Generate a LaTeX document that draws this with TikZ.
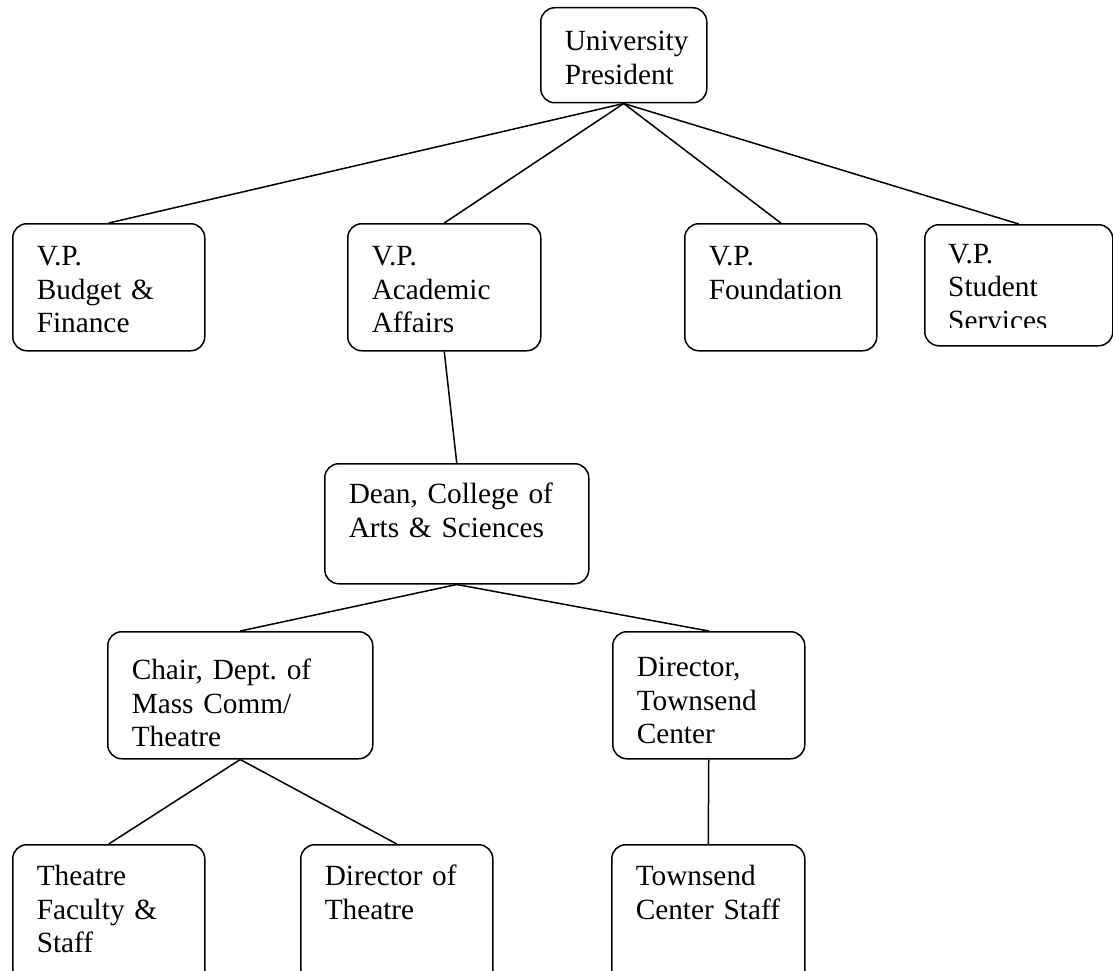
\documentclass[tikz,border=0pt]{standalone}
\usepackage{fontspec}
\setmainfont{Liberation Serif}
\frenchspacing
\usetikzlibrary{positioning}

\tikzset{
  orgbox/.style={draw, line width=1.5pt, rounded corners=14pt, anchor=north west,
    inner xsep=24pt, inner ysep=0pt, align=left, text height=42pt, text depth=85pt,
    font=\fontsize{29.3pt}{33.5pt}\selectfont},
  orgtext/.style={anchor=north west, inner xsep=24pt, inner ysep=0pt, align=left,
    font=\fontsize{29.3pt}{33.5pt}\selectfont},
  link/.style={line width=1.5pt},
}

\begin{document}
\begin{tikzpicture}[x=1pt, y=1pt]
  \useasboundingbox (0,0) rectangle (1113,-971);
  \fill[white] (0,0) rectangle (1113,-971);
  \clip (0,0) rectangle (1113,-971);

  % top
  \node[orgbox, text width=118pt, text height=43pt, text depth=52pt] (pres) at (540,-7) {University\\President};

  % vice presidents
  \node[orgbox, text width=144pt] (vpbf) at (12,-223) {V.P.\\Budget \&\\Finance};
  \node[orgbox, text width=145pt] (vpaa) at (347,-223) {V.P.\\Academic\\Affairs};
  \node[orgbox, text width=144pt] (vpf) at (684,-223) {V.P.\\Foundation};
  \node[orgbox, text width=140pt, text depth=79pt] (vpss) at (924,-224) {};
  \begin{scope}
    \clip (vpss.north west) rectangle ([yshift=-103pt]vpss.north east);
    \node[orgtext, text width=140pt, text height=39pt] (vpsstext) at (vpss.north west) {V.P.\\Student\\Services};
  \end{scope}

  % dean
  \node[orgbox, text width=216pt, text height=40pt, text depth=80pt] (dean) at (324,-463) {Dean, College of\\Arts \& Sciences};

  % chairs and directors
  \node[orgbox, text width=217pt, text height=48pt, text depth=79pt] (chair) at (107,-631) {Chair, Dept. of\\Mass Comm/\\Theatre};
  \node[orgbox, text width=144pt, text height=45pt, text depth=82pt] (dirtc) at (612,-631) {Director,\\Townsend\\Center};

  % staff
  \node[orgbox, text width=144pt, text height=41pt, text depth=99pt] (tfs) at (12,-844) {Theatre\\Faculty \&\\Staff};
  \node[orgbox, text width=144pt, text height=41pt, text depth=99pt] (dirth) at (300,-844) {Director of\\Theatre};
  \node[orgbox, text width=145pt, text height=41pt, text depth=99pt] (tcs) at (611,-844) {Townsend\\Center Staff};

  % connectors
  \draw[link] (pres.south) -- (vpbf.north);
  \draw[link] (pres.south) -- (vpaa.north);
  \draw[link] (pres.south) -- (vpf.north);
  \draw[link] (pres.south) -- (vpss.north);
  \draw[link] (vpaa.south) -- (dean.north);
  \draw[link] (dean.south) -- (chair.north);
  \draw[link] (dean.south) -- (dirtc.north);
  \draw[link] (chair.south) -- (tfs.north);
  \draw[link] (chair.south) -- (dirth.north);
  \draw[link] (dirtc.south) -- (tcs.north);
\end{tikzpicture}
\end{document}
